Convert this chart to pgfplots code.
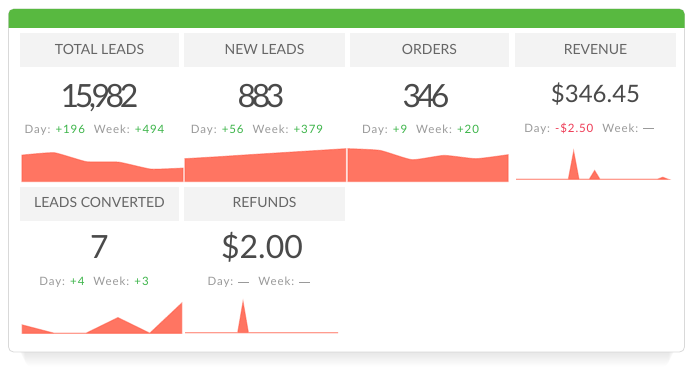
\documentclass[border=0pt]{standalone}
\usepackage{pgfplots}
\pgfplotsset{compat=1.18}
\usepackage{fontspec}
\setmainfont{Lato}
\newfontfamily\bignum[LetterSpace=-14]{Lato}
\newfontfamily\dayfont[LetterSpace=8]{Lato}
\definecolor{gbar}{HTML}{58B940}
\definecolor{hdrbg}{HTML}{F3F3F3}
\definecolor{hdrtxt}{HTML}{666666}
\definecolor{numtxt}{HTML}{4A4A4A}
\definecolor{daytxt}{HTML}{9A9A9A}
\definecolor{pos}{HTML}{3DB54A}
\definecolor{neg}{HTML}{EE3B55}
\definecolor{spark}{HTML}{FF7562}
\definecolor{sparkline}{HTML}{FF5A45}
\definecolor{cardborder}{HTML}{D9D9D9}
\pgfplotsset{spark/.style={scale only axis, hide axis, clip=false, anchor=south west,
  xmin=0, ymin=0, ymax=35, height=35pt},
  sparkfill/.style={fill=spark, draw=sparkline, draw opacity=0.55, line width=1.2pt}}
\newcommand{\hdr}[3]{\node[anchor=base, inner sep=0pt, text=hdrtxt, font=\fontsize{14}{14}\selectfont] at (#1pt,#2pt) {#3};}
\newcommand{\gap}{\hspace{9pt}}
\newcommand{\dash}{\rule[3.3pt]{11pt}{0.6pt}}
\begin{document}
\begin{tikzpicture}
\useasboundingbox (0pt,0pt) rectangle (700pt,371pt);
% shadow
\foreach \k in {1,...,12} {
  \fill[black, opacity=0.008, rounded corners=6pt] ({18pt+\k*0.6pt}, {19pt-\k*1.2pt}) rectangle ({676pt-\k*0.6pt}, 60pt);
}
% card
\draw[draw=cardborder, fill=white, rounded corners=5pt, line width=0.8pt] (8.5pt,19pt) rectangle (684.5pt,362pt);
\fill[gbar] (8.5pt,343pt) [rounded corners=5pt] -- (8.5pt,362pt) -- (684.5pt,362pt) [sharp corners] -- (684.5pt,343pt) -- cycle;
% header boxes
\fill[hdrbg] (20pt,304pt) rectangle (179pt,338pt);
\fill[hdrbg] (184pt,304pt) rectangle (345pt,338pt);
\fill[hdrbg] (350pt,304pt) rectangle (509pt,338pt);
\fill[hdrbg] (515pt,304pt) rectangle (676pt,338pt);
\fill[hdrbg] (20pt,150pt) rectangle (179pt,184pt);
\fill[hdrbg] (184pt,150pt) rectangle (345pt,184pt);
\hdr{99.5}{316.7}{TOTAL LEADS}
\hdr{264.5}{316.7}{NEW LEADS}
\hdr{429.5}{316.7}{ORDERS}
\hdr{595.5}{316.7}{REVENUE}
\hdr{99.5}{163.3}{LEADS CONVERTED}
\hdr{264.5}{163.3}{REFUNDS}
% big numbers
\begin{scope}[every node/.style={anchor=base, inner sep=0pt, text=numtxt}]
\node[font=\fontsize{32}{32}\bignum] at (99.5pt,263pt) {15,982};
\node[font=\fontsize{32}{32}\bignum] at (261pt,263pt) {883};
\node[font=\fontsize{32}{32}\bignum] at (426pt,263pt) {346};
\node[font=\fontsize{24}{24}\selectfont] at (595.5pt,268pt) {\$346.45};
\node[font=\fontsize{32}{32}\selectfont] at (99.5pt,112.7pt) {7};
\node[font=\fontsize{32}{32}\selectfont] at (262pt,112.7pt) {\$2.00};
\end{scope}
% day lines
\begin{scope}[every node/.style={anchor=base, inner sep=0pt, text=daytxt, font=\fontsize{11.5}{11.5}\dayfont}]
\node at (94.5pt,237.7pt) {Day: \textcolor{pos}{+196}\gap Week: \textcolor{pos}{+494}};
\node at (257pt,237.7pt) {Day: \textcolor{pos}{+56}\gap Week: \textcolor{pos}{+379}};
\node at (420.5pt,237.7pt) {Day: \textcolor{pos}{+9}\gap Week: \textcolor{pos}{+20}};
\node at (589.3pt,238.7pt) {Day: \textcolor{neg}{-\$2.50}\gap Week: \dash};
\node at (94pt,85pt) {Day: \textcolor{pos}{+4}\gap Week: \textcolor{pos}{+3}};
\node at (259pt,85pt) {Day: \dash\gap Week: \dash};
\end{scope}
% sparklines
\begin{axis}[spark, at={(22pt,189.5pt)}, width=161pt, xmax=5]
\addplot[sparkfill, smooth, tension=0.25] coordinates {(0,26.3) (1,28.7) (2,19.7) (3,19.3) (4,12.3) (5,13.3)} \closedcycle;
\end{axis}
\begin{axis}[spark, at={(185pt,189.5pt)}, width=160.7pt, xmax=5]
\addplot[sparkfill] coordinates {(0,22.7) (1,24.6) (2,26.7) (3,28.7) (4,30.7) (5,32.7)} \closedcycle;
\end{axis}
\begin{axis}[spark, at={(348pt,189.5pt)}, width=160pt, xmax=5]
\addplot[sparkfill, smooth, tension=0.3] coordinates {(0,32.7) (1,31) (2,21.7) (3,26) (4,22.7) (5,26.7)} \closedcycle;
\end{axis}
\begin{axis}[spark, at={(516pt,191.7pt)}, width=152pt, xmax=29]
\addplot[sparkfill] coordinates {(0,0) (1,0) (2,0) (3,0) (4,0) (5,0) (6,0) (7,0) (8,0) (9,0) (10,0) (11,27.6) (12,0) (13,0) (14,0) (15,8.6) (16,0) (17,0) (18,0) (19,0) (20,0) (21,0) (22,0) (23,0) (24,0) (25,0) (26,0) (27,0) (28,2) (29,0)} \closedcycle;
\end{axis}
\begin{axis}[spark, at={(22.3pt,37.7pt)}, width=159.4pt, xmax=5]
\addplot[sparkfill] coordinates {(0,8.3) (1,0) (2,0) (3,15.6) (4,0) (5,30)} \closedcycle;
\end{axis}
\begin{axis}[spark, at={(185pt,38.3pt)}, width=153pt, xmax=29]
\addplot[sparkfill] coordinates {(0,0) (1,0) (2,0) (3,0) (4,0) (5,0) (6,0) (7,0) (8,0) (9,0) (10,0) (11,30.6) (12,0) (13,0) (14,0) (15,0) (16,0) (17,0) (18,0) (19,0) (20,0) (21,0) (22,0) (23,0) (24,0) (25,0) (26,0) (27,0) (28,0) (29,0)} \closedcycle;
\end{axis}
\end{tikzpicture}
\end{document}
